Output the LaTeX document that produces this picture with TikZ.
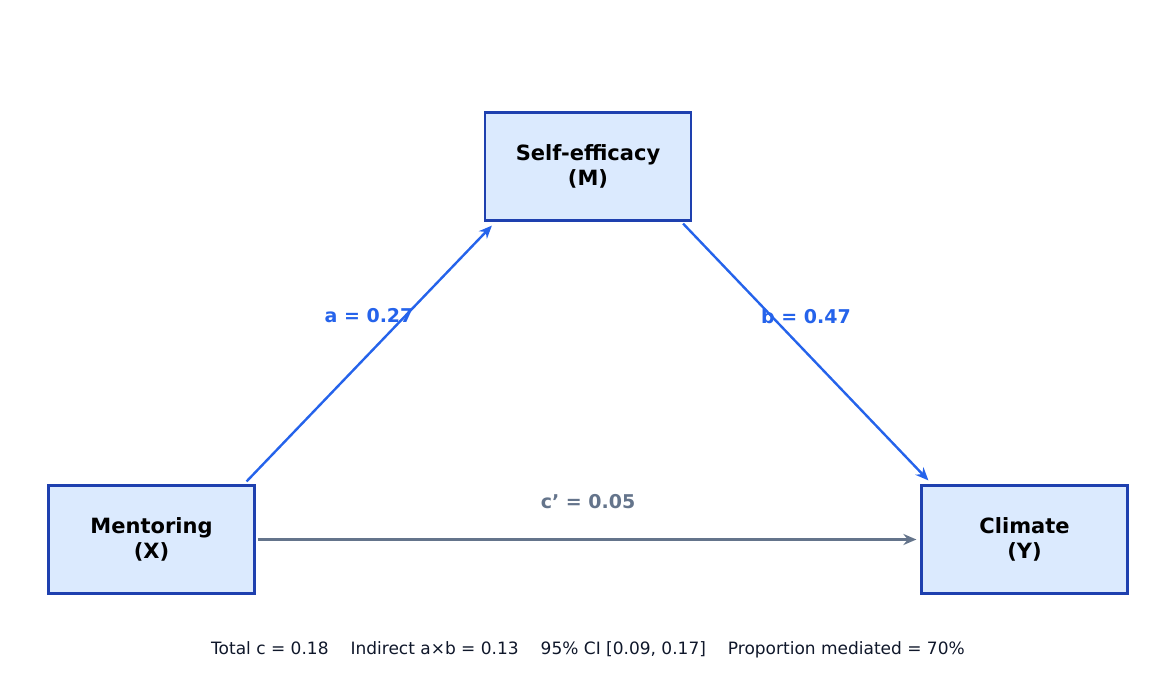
\documentclass[tikz,border=0pt]{standalone}
\usepackage{fontspec}
\setmainfont{DejaVu Sans}
\usetikzlibrary{arrows.meta}
\definecolor{boxfill}{HTML}{DBEAFE}
\definecolor{boxline}{HTML}{1E40AF}
\definecolor{pathblue}{HTML}{2563EB}
\definecolor{pathgray}{HTML}{64748B}
\definecolor{foot}{HTML}{0F172A}
\begin{document}
\begin{tikzpicture}[x=1pt,y=-1pt,
  varbox/.style={draw=boxline,fill=boxfill,line width=2.2pt,minimum width=206pt,minimum height=108pt,align=center,font=\fontsize{21}{25}\selectfont\bfseries,inner sep=0pt},
  patharrow/.style={line width=2.4pt,-{Stealth[length=13pt,width=11pt]}},
  lab/.style={font=\fontsize{19}{23}\selectfont\bfseries}]
\useasboundingbox (0,0) rectangle (1175,685);
\node[varbox] (M) at (588,166.5) {Self-efficacy\\(M)};
\node[varbox] (X) at (151.5,539.5) {Mentoring\\(X)};
\node[varbox] (Y) at (1024.5,539.5) {Climate\\(Y)};
\draw[patharrow,pathblue] ([shift={(-9,-3)}]X.north east) -- ([shift={(8,4)}]M.south west);
\draw[patharrow,pathblue] ([shift={(-9,2)}]M.south east) -- ([shift={(8,-4)}]Y.north west);
\draw[patharrow,pathgray] ([xshift=2pt]X.east) -- ([xshift=-4pt]Y.west);
\node[lab,text=pathblue] (la) at (369,316) {a = 0.27};
\node[lab,text=pathblue] (lb) at (806,316) {b = 0.47};
\node[lab,text=pathgray] (lc) at (588,502) {c' = 0.05};
\node[text=foot,font=\fontsize{17}{20}\selectfont] (f) at (588,650) {Total c = 0.18\hspace{22pt}Indirect a×b = 0.13\hspace{22pt}95\% CI [0.09, 0.17]\hspace{22pt}Proportion mediated = 70\%};
\end{tikzpicture}
\end{document}
